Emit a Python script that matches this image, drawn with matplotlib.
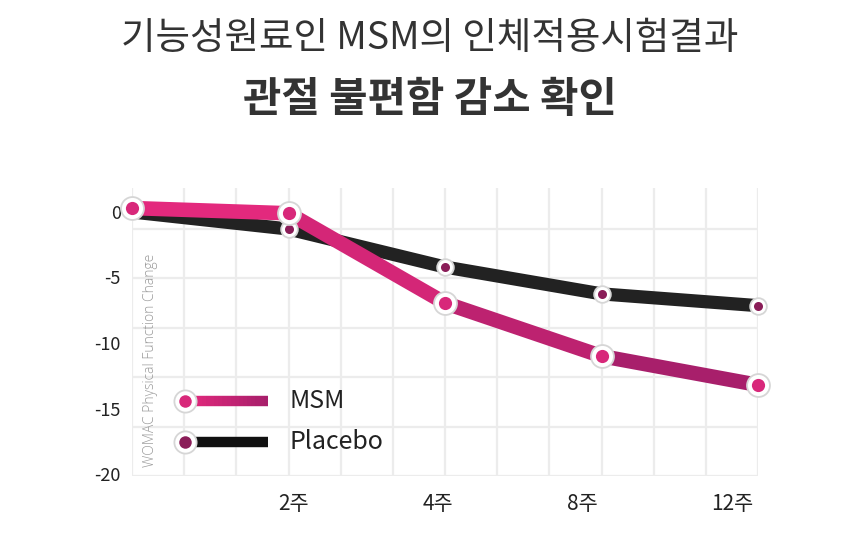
import matplotlib
matplotlib.use("Agg")
import matplotlib.pyplot as plt
from matplotlib.collections import LineCollection
import numpy as np

plt.rcParams['font.family'] = ['Noto Sans CJK KR', 'DejaVu Sans']

# ---- data ----
categories = ["0주", "2주", "4주", "8주", "12주"]
x_pos = [0, 3, 6, 9, 12]
msm_values = [0.3, -0.1, -6.95, -11.0, -13.2]
placebo_values = [0.0, -1.3, -4.2, -6.25, -7.15]
tick_labels = ["2주", "4주", "8주", "12주"]
tick_label_pos = [3.1, 5.87, 8.63, 11.5]
y_ticks = [0, -5, -10, -15, -20]
title1 = "기능성원료인 MSM의 인체적용시험결과"
title2 = "관절 불편함 감소 확인"
y_label = "WOMAC Physical Function Change"
series_names = ["MSM", "Placebo"]

# ---- styling ----
msm_seg_colors = ["#e3297d", "#d42677", "#bd2270", "#a81f6b"]
placebo_color = "#222222"
msm_inner = "#d8287a"
placebo_inner = "#8a1d58"
grid_color = "#ececec"

W, H, DPI = 860, 551, 100
fig = plt.figure(figsize=(W / DPI, H / DPI), dpi=DPI)
fig.patch.set_facecolor("white")

left, right, top, bottom = 132, 758, 188, 476
ax = fig.add_axes([left / W, 1 - bottom / H, (right - left) / W, (bottom - top) / H])
ax2 = ax.twinx()
ax.set_zorder(2)
ax2.set_zorder(1)
ax.patch.set_visible(False)

# axis scales
ax.set_xlim(0, 12)
ax.set_ylim(-20.15, 1.83)
ax2.set_ylim(0, (bottom - top) / 49.5)

# horizontal decorative grid (twin axis)
ax2.set_yticks(np.arange(0, 6))
ax2.grid(True, axis="y", color=grid_color, linewidth=1.6)
ax2.tick_params(axis="y", length=0, labelright=False)
for s in ax2.spines.values():
    s.set_visible(False)

# vertical decorative grid (minor ticks)
ax.set_xticks(np.arange(0, 13), minor=True)
ax.grid(True, axis="x", which="minor", color=grid_color, linewidth=1.6, zorder=0)
ax.set_axisbelow(True)

ax.set_xticks(tick_label_pos)
ax.set_xticklabels(tick_labels, fontsize=15, color="#222222")
ax.tick_params(axis="x", which="both", length=0, pad=12)
ax.set_yticks(y_ticks)
ax.set_yticklabels([str(v) for v in y_ticks], fontsize=13, color="#222222")
ax.tick_params(axis="y", length=0, pad=8)
for s in ax.spines.values():
    s.set_visible(False)

# placebo line
ax.plot(x_pos, placebo_values, color=placebo_color, linewidth=9.5,
        solid_capstyle="butt", solid_joinstyle="round", zorder=3, clip_on=False)
# MSM gradient line
pts = np.column_stack([x_pos, msm_values])
segs = np.stack([pts[:-1], pts[1:]], axis=1)
lc = LineCollection(segs, colors=msm_seg_colors, linewidths=10.5,
                    capstyle="round", joinstyle="round", zorder=4, clip_on=False)
ax.add_collection(lc)

# markers
ax.plot(x_pos[1:], placebo_values[1:], linestyle="none", marker="o", markersize=12,
        markerfacecolor="white", markeredgecolor="#d6d6d6", markeredgewidth=1.3,
        zorder=5, clip_on=False)
ax.plot(x_pos[1:], placebo_values[1:], linestyle="none", marker="o", markersize=6.5,
        markerfacecolor=placebo_inner, markeredgewidth=0, zorder=6, clip_on=False)
ax.plot(x_pos, msm_values, linestyle="none", marker="o", markersize=16.5,
        markerfacecolor="white", markeredgecolor="#d6d6d6", markeredgewidth=1.3,
        zorder=7, clip_on=False)
ax.plot(x_pos, msm_values, linestyle="none", marker="o", markersize=9.5,
        markerfacecolor=msm_inner, markeredgewidth=0, zorder=8, clip_on=False)

# y label inside plot
ax.text(0.03, 0.03, y_label, transform=ax.transAxes, rotation=90,
        ha="center", va="bottom", fontsize=10, color="#9a9a9a",
        family=["Open Sans", "DejaVu Sans"], fontweight="light", zorder=9)

# legend (manual)
leg_items = [
    (series_names[0], 0.262, ["#e3297d", "#a81f6b"], msm_inner),
    (series_names[1], 0.117, ["#111111", "#111111"], placebo_inner),
]
for name, yf, cols, inner in leg_items:
    lx = np.linspace(0.085, 0.217, 21)
    lsegs = [[(lx[i], yf), (lx[i + 1], yf)] for i in range(len(lx) - 1)]
    c0 = np.array(matplotlib.colors.to_rgb(cols[0]))
    c1 = np.array(matplotlib.colors.to_rgb(cols[1]))
    lcols = [tuple(c0 + (c1 - c0) * t) for t in np.linspace(0, 1, len(lsegs))]
    ax.add_collection(LineCollection(lsegs, colors=lcols, linewidths=7.5,
                                     transform=ax.transAxes, zorder=9, capstyle="butt"))
    ax.plot([0.085], [yf], transform=ax.transAxes, marker="o", markersize=16,
            markerfacecolor="white", markeredgecolor="#d6d6d6", markeredgewidth=1.3,
            zorder=10, clip_on=False)
    ax.plot([0.085], [yf], transform=ax.transAxes, marker="o", markersize=9,
            markerfacecolor=inner, markeredgewidth=0, zorder=11, clip_on=False)
    ax.text(0.252, yf, name, transform=ax.transAxes, ha="left", va="center",
            fontsize=18, color="#222222", zorder=11)

# titles
fig.text(0.5, 1 - 38 / H, title1, ha="center", va="center", fontsize=27,
         color="#333333")
fig.text(0.5, 1 - 100 / H, title2, ha="center", va="center", fontsize=30,
         fontweight="black", color="#333333")

fig.savefig("out.png", dpi=DPI, facecolor="white")
